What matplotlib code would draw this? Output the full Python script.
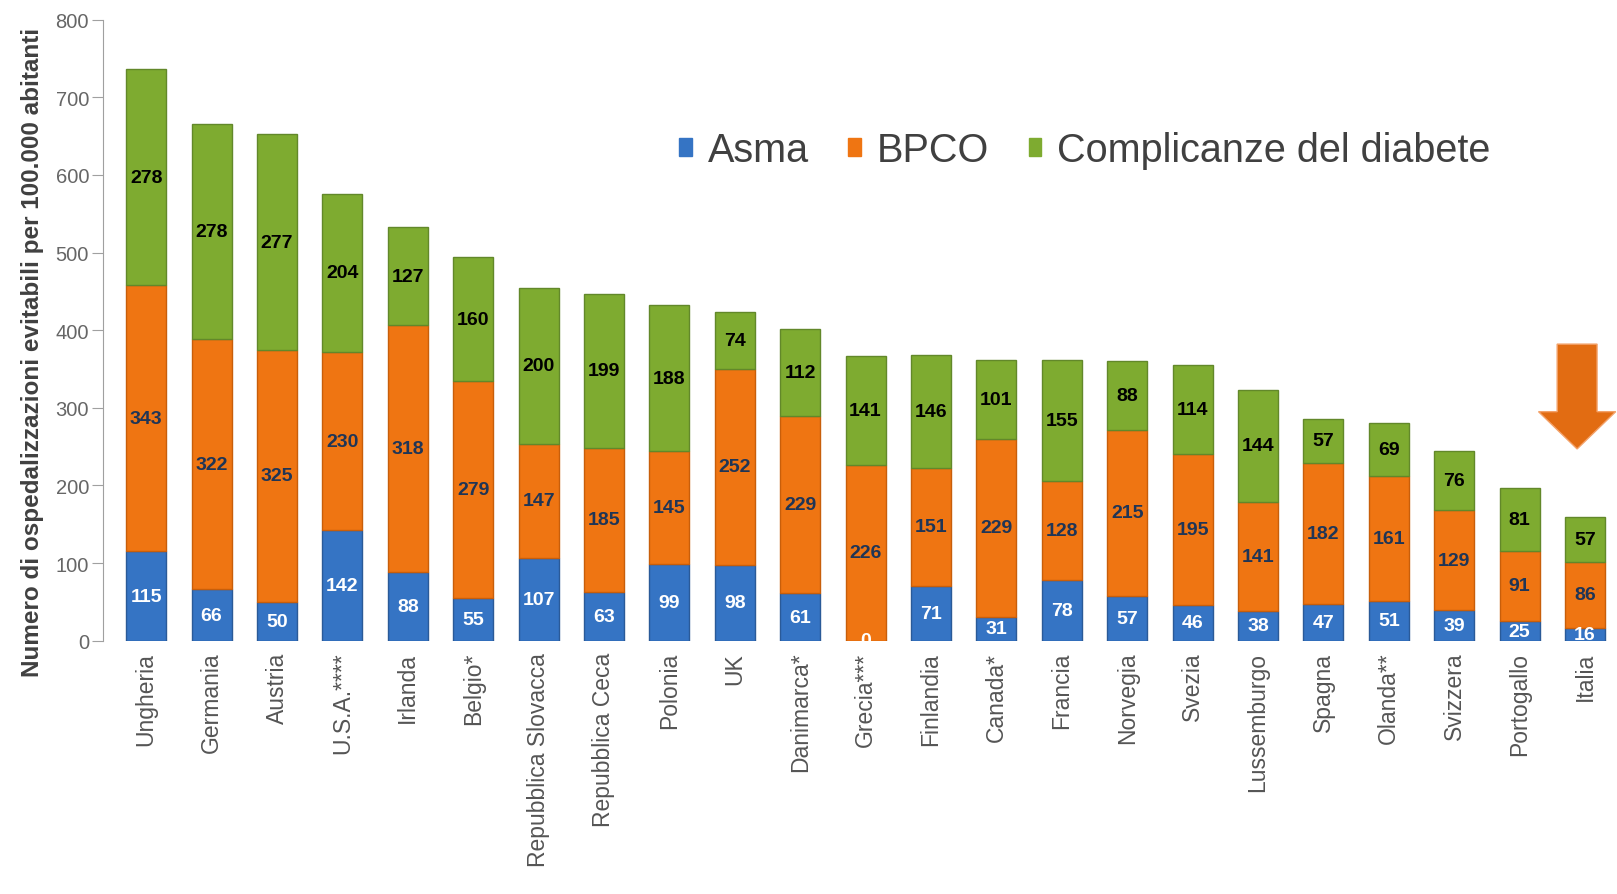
import matplotlib
matplotlib.use("Agg")
import matplotlib.pyplot as plt
from matplotlib.patches import Patch, FancyArrow
import numpy as np

plt.rcParams['font.family'] = ['Liberation Sans', 'DejaVu Sans']

paesi = ["Ungheria", "Germania", "Austria", "U.S.A.****", "Irlanda", "Belgio*",
         "Repubblica Slovacca", "Repubblica Ceca", "Polonia", "UK", "Danimarca*",
         "Grecia***", "Finlandia", "Canada*", "Francia", "Norvegia", "Svezia",
         "Lussemburgo", "Spagna", "Olanda**", "Svizzera", "Portogallo", "Italia"]
asma = [115, 66, 50, 142, 88, 55, 107, 63, 99, 98, 61, 0, 71, 31, 78, 57, 46, 38, 47, 51, 39, 25, 16]
bpco = [343, 322, 325, 230, 318, 279, 147, 185, 145, 252, 229, 226, 151, 229, 128, 215, 195, 141, 182, 161, 129, 91, 86]
diabete = [278, 278, 277, 204, 127, 160, 200, 199, 188, 74, 112, 141, 146, 101, 155, 88, 114, 144, 57, 69, 76, 81, 57]
yticks = list(range(0, 801, 100))

c_blu = "#3574c4"
c_ara = "#ef7512"
c_ver = "#7eab30"

fig = plt.figure(figsize=(16.17, 8.95), dpi=100)
ax = fig.add_axes([0.0637, 0.283, 0.9363, 0.694])

x = np.arange(len(paesi))
w = 0.61
a = np.array(asma)
b = np.array(bpco)
d = np.array(diabete)

ax.bar(x, a, w, color=c_blu, edgecolor="#2a5a98", linewidth=1)
ax.bar(x, b, w, bottom=a, color=c_ara, edgecolor="#c85e0a", linewidth=1)
ax.bar(x, d, w, bottom=a + b, color=c_ver, edgecolor="#62882a", linewidth=1)

for i in range(len(paesi)):
    ax.text(x[i], a[i] / 2, str(a[i]), ha="center", va="center", color="white",
            fontsize=14, fontweight="bold")
    ax.text(x[i], a[i] + b[i] / 2, str(b[i]), ha="center", va="center", color="#1f3556",
            fontsize=14, fontweight="bold")
    ax.text(x[i], a[i] + b[i] + d[i] / 2, str(d[i]), ha="center", va="center", color="black",
            fontsize=14, fontweight="bold")

# freccia su Italia
ax.add_patch(FancyArrow(21.88, 382, 0, -135, width=0.61, head_width=1.18, head_length=48,
                        length_includes_head=True, color="#e26c12", ec="#f3a26a", lw=1))

ax.set_xlim(-0.66, 22.49)
ax.set_ylim(0, 800)
ax.set_yticks(yticks)
ax.set_yticklabels([str(v) for v in yticks], fontsize=14.5, color="#666666")
ax.set_xticks(x)
ax.set_xticklabels(paesi, rotation=90, fontsize=16.5, color="#555555", va="top")
ax.tick_params(axis="x", length=0, pad=8)
ax.tick_params(axis="y", length=8, color="#a0a0a0", pad=2)

for s in ["top", "right", "bottom"]:
    ax.spines[s].set_visible(False)
ax.spines["left"].set_color("#a0a0a0")

ax.set_ylabel("Numero di ospedalizzazioni evitabili per 100.000 abitanti",
              fontsize=17.5, fontweight="bold", color="#404040")
ax.yaxis.set_label_coords(-0.039, 0.466)

handles = [Patch(color=c_blu), Patch(color=c_ara), Patch(color=c_ver)]
fig.legend(handles, ["Asma", "BPCO", "Complicanze del diabete"], ncol=3,
           loc="center left", bbox_to_anchor=(0.398, 0.831), frameon=False,
           fontsize=28.5, handlelength=0.32, handleheight=0.32, handletextpad=0.4,
           columnspacing=1.0, labelcolor="#404040")

fig.savefig("out.png", dpi=100)
